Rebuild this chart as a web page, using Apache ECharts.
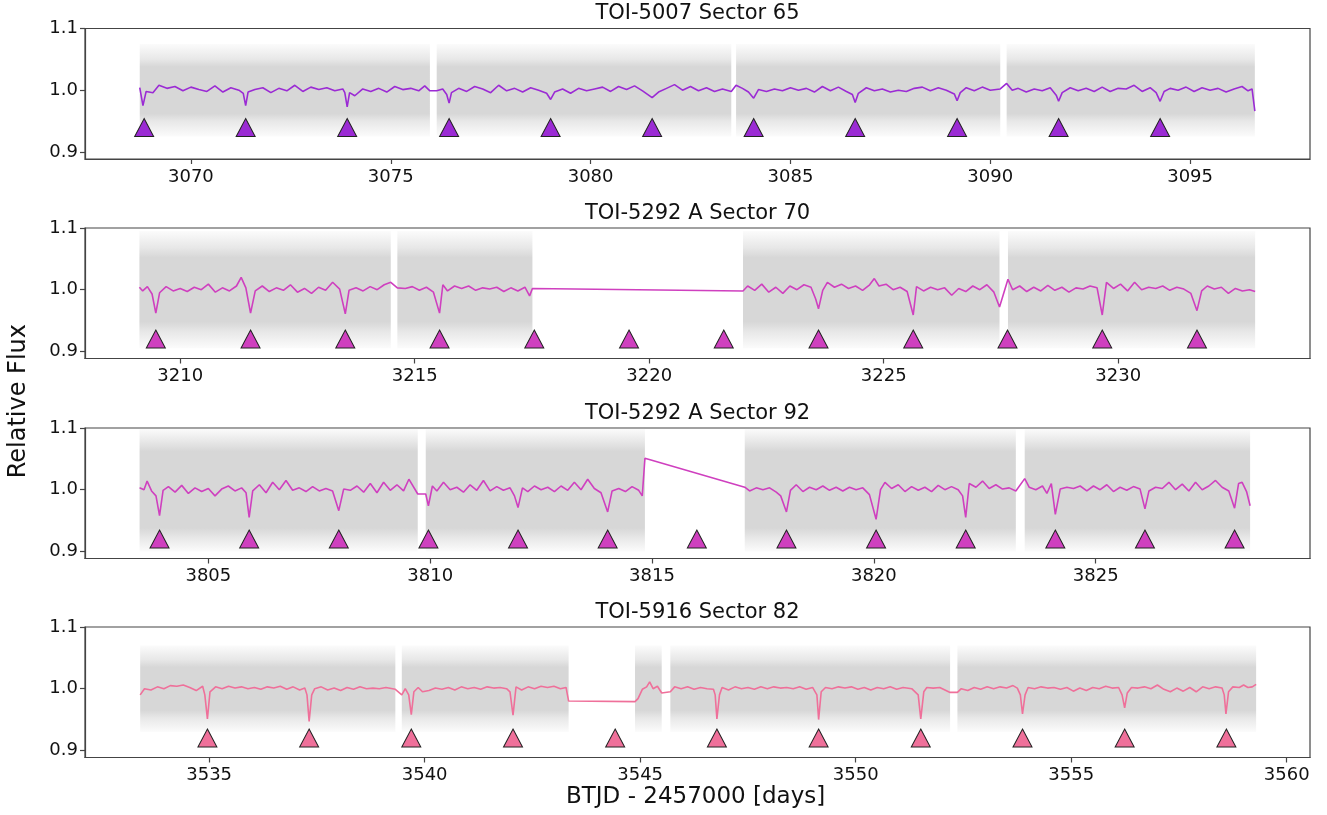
<!DOCTYPE html>
<html>
<head>
<meta charset="utf-8">
<script src="https://cdn.jsdelivr.net/npm/echarts@6/dist/echarts.min.js"></script>
<style>
  html, body { margin: 0; padding: 0; background: #fff; }
  #chart { width: 1327px; height: 815px; }
</style>
</head>
<body>
<div id="chart"></div>
<script>
// ---- panel titles
const titles = ["TOI-5007 Sector 65", "TOI-5292 A Sector 70", "TOI-5292 A Sector 92", "TOI-5916 Sector 82"];

// ---- x tick labels per panel
const s65Ticks = [3070, 3075, 3080, 3085, 3090, 3095];
const s70Ticks = [3210, 3215, 3220, 3225, 3230];
const s92Ticks = [3805, 3810, 3815, 3820, 3825];
const s82Ticks = [3535, 3540, 3545, 3550, 3555, 3560];
const yTicks = [0.9, 1.0, 1.1];

// ---- stretches of time covered by the grey photometry cloud [start, end]
const s65Segs = [[3068.72, 3075.98], [3076.15, 3083.52], [3083.64, 3090.25], [3090.41, 3096.62]];
const s70Segs = [[3209.13, 3214.49], [3214.63, 3217.51], [3222.0, 3227.47], [3227.65, 3232.92]];
const s92Segs = [[3803.45, 3809.72], [3809.90, 3814.84], [3817.09, 3823.2], [3823.4, 3828.48]];
const s82Segs = [[3533.40, 3539.32], [3539.47, 3543.34], [3544.88, 3545.50], [3545.70, 3552.19], [3552.36, 3559.29]];

// ---- spread of the grey cloud: outer lo, mid lo, core lo, core hi, mid hi, outer hi
const s65Spread = [0.925, 0.95, 0.962, 1.038, 1.05, 1.075];
const s70Spread = [0.905, 0.932, 0.948, 1.052, 1.068, 1.095];
const s92Spread = [0.9, 0.922, 0.938, 1.062, 1.078, 1.099];
const s82Spread = [0.93, 0.953, 0.965, 1.035, 1.047, 1.07];

// ---- binned light curves [time, flux]
const s65Flux = [
  [3068.72,1.004],[3068.80,0.975],[3068.88,0.998],[3069.05,0.996],[3069.2,1.008],[3069.4,1.003],[3069.6,1.006],[3069.8,0.999],[3070.0,1.005],[3070.2,1.001],[3070.4,0.998],[3070.6,1.007],[3070.8,0.997],[3071.0,1.004],[3071.2,1.0],[3071.31,0.995],[3071.37,0.975],[3071.43,0.997],[3071.6,1.001],[3071.8,1.004],[3072.0,0.996],[3072.2,1.003],[3072.4,0.999],[3072.6,1.008],[3072.8,0.998],[3073.0,1.005],[3073.2,1.001],[3073.4,1.004],[3073.6,0.999],[3073.8,1.002],[3073.85,0.996],[3073.91,0.973],[3073.97,0.996],[3074.1,0.991],[3074.3,1.002],[3074.5,0.998],[3074.7,1.003],[3074.9,0.997],[3075.1,1.006],[3075.3,1.001],[3075.5,1.003],[3075.7,0.999],[3075.85,1.007],[3075.98,0.999],
  [3076.15,0.999],[3076.3,1.002],[3076.40,0.993],[3076.46,0.979],[3076.52,0.996],[3076.7,1.003],[3076.9,0.998],[3077.1,1.006],[3077.3,1.002],[3077.5,0.996],[3077.7,1.008],[3077.9,0.999],[3078.1,1.003],[3078.3,0.997],[3078.5,1.004],[3078.7,1.0],[3078.9,0.995],[3079.0,0.985],[3079.1,0.997],[3079.3,1.002],[3079.5,0.995],[3079.7,1.003],[3079.9,0.999],[3080.1,1.002],[3080.3,1.005],[3080.5,0.998],[3080.7,1.006],[3080.9,1.001],[3081.1,1.007],[3081.3,0.999],[3081.54,0.988],[3081.7,0.997],[3081.9,1.003],[3082.1,1.009],[3082.3,1.0],[3082.5,1.006],[3082.7,0.999],[3082.9,1.004],[3083.1,0.998],[3083.3,1.002],[3083.52,0.998],
  [3083.64,1.008],[3083.8,1.003],[3083.95,0.997],[3084.08,0.987],[3084.2,1.001],[3084.4,0.998],[3084.6,1.002],[3084.8,0.999],[3085.0,1.004],[3085.2,1.0],[3085.4,1.003],[3085.6,0.997],[3085.8,1.006],[3086.0,0.999],[3086.2,1.005],[3086.4,0.998],[3086.55,0.993],[3086.62,0.980],[3086.7,0.995],[3086.9,1.004],[3087.1,0.999],[3087.3,1.002],[3087.5,0.997],[3087.7,1.0],[3087.9,0.998],[3088.1,1.003],[3088.3,1.005],[3088.5,0.999],[3088.7,1.004],[3088.9,1.0],[3089.1,0.994],[3089.17,0.983],[3089.25,0.996],[3089.4,1.004],[3089.6,0.999],[3089.8,1.005],[3090.0,1.0],[3090.25,1.002],
  [3090.41,1.011],[3090.55,1.0],[3090.7,1.003],[3090.9,0.997],[3091.1,1.002],[3091.3,0.999],[3091.5,1.004],[3091.65,0.992],[3091.71,0.982],[3091.8,0.996],[3092.0,1.004],[3092.2,0.999],[3092.4,1.003],[3092.6,0.998],[3092.8,1.005],[3093.0,0.998],[3093.2,1.003],[3093.4,1.002],[3093.6,1.008],[3093.8,0.998],[3094.0,1.004],[3094.15,0.996],[3094.25,0.982],[3094.35,0.998],[3094.5,1.003],[3094.7,1.0],[3094.9,1.005],[3095.1,0.998],[3095.3,1.004],[3095.5,1.0],[3095.7,1.003],[3095.9,0.997],[3096.1,1.002],[3096.3,1.006],[3096.45,0.999],[3096.55,1.002],[3096.62,0.966]
];
const s70Flux = [
  [3209.13,1.004],[3209.2,0.998],[3209.3,1.005],[3209.4,0.993],[3209.48,0.962],[3209.56,0.995],[3209.7,1.005],[3209.85,0.998],[3210.0,1.002],[3210.15,0.997],[3210.3,1.004],[3210.45,1.0],[3210.6,1.009],[3210.75,0.996],[3210.9,1.003],[3211.05,0.998],[3211.2,1.006],[3211.3,1.020],[3211.4,1.003],[3211.5,0.962],[3211.6,0.998],[3211.75,1.006],[3211.9,0.997],[3212.05,1.003],[3212.2,0.999],[3212.35,1.008],[3212.5,0.996],[3212.65,1.002],[3212.8,0.994],[3212.95,1.004],[3213.1,0.999],[3213.25,1.012],[3213.4,1.001],[3213.52,0.961],[3213.6,0.999],[3213.75,1.003],[3213.9,0.998],[3214.05,1.005],[3214.2,1.0],[3214.35,1.008],[3214.49,1.012],
  [3214.63,1.003],[3214.8,1.002],[3214.95,1.005],[3215.1,0.999],[3215.25,1.004],[3215.4,0.996],[3215.53,0.962],[3215.6,1.008],[3215.7,0.998],[3215.85,1.006],[3216.0,1.002],[3216.15,1.006],[3216.3,0.999],[3216.45,1.003],[3216.6,1.001],[3216.75,1.004],[3216.9,0.997],[3217.05,1.003],[3217.2,0.998],[3217.35,1.004],[3217.45,0.99],[3217.51,1.002],
  [3222.0,0.998],[3222.1,1.006],[3222.25,0.999],[3222.4,1.009],[3222.55,0.996],[3222.7,1.004],[3222.85,0.994],[3223.0,1.006],[3223.15,1.0],[3223.3,1.008],[3223.45,1.004],[3223.55,0.985],[3223.61,0.969],[3223.7,0.999],[3223.8,1.012],[3223.95,1.004],[3224.1,1.009],[3224.25,1.002],[3224.4,1.006],[3224.55,0.999],[3224.7,1.008],[3224.8,1.018],[3224.9,1.006],[3225.05,1.009],[3225.2,1.0],[3225.35,1.004],[3225.5,0.997],[3225.63,0.959],[3225.7,1.005],[3225.85,0.998],[3226.0,1.004],[3226.15,1.0],[3226.3,1.003],[3226.45,0.991],[3226.6,1.002],[3226.75,0.997],[3226.9,1.006],[3227.05,1.0],[3227.2,1.008],[3227.35,0.996],[3227.47,0.972],
  [3227.65,1.017],[3227.75,1.0],[3227.9,1.006],[3228.05,0.997],[3228.2,1.004],[3228.35,0.998],[3228.5,1.007],[3228.65,0.999],[3228.8,1.004],[3228.95,0.996],[3229.1,1.003],[3229.25,1.001],[3229.4,1.006],[3229.55,1.003],[3229.66,0.959],[3229.75,1.012],[3229.9,1.002],[3230.05,1.009],[3230.2,0.998],[3230.35,1.012],[3230.5,1.0],[3230.65,1.004],[3230.8,1.002],[3230.95,1.006],[3231.1,0.999],[3231.25,1.004],[3231.4,1.001],[3231.55,0.994],[3231.68,0.966],[3231.78,0.998],[3231.9,1.006],[3232.05,1.001],[3232.2,1.004],[3232.35,0.994],[3232.5,1.002],[3232.65,0.998],[3232.8,1.0],[3232.92,0.997]
];
const s92Flux = [
  [3803.45,1.003],[3803.55,1.0],[3803.62,1.014],[3803.72,0.998],[3803.82,0.99],[3803.90,0.958],[3803.98,0.999],[3804.1,1.005],[3804.25,0.996],[3804.4,1.007],[3804.55,0.994],[3804.7,1.003],[3804.85,0.997],[3805.0,1.002],[3805.15,0.99],[3805.3,1.001],[3805.45,1.006],[3805.6,0.998],[3805.75,1.003],[3805.85,0.995],[3805.92,0.955],[3806.0,0.998],[3806.15,1.008],[3806.3,0.995],[3806.45,1.012],[3806.6,1.0],[3806.75,1.015],[3806.9,0.999],[3807.05,1.003],[3807.2,0.997],[3807.35,1.005],[3807.5,0.998],[3807.65,1.002],[3807.8,0.998],[3807.94,0.966],[3808.05,1.001],[3808.2,0.999],[3808.35,1.006],[3808.5,0.996],[3808.65,1.01],[3808.8,0.995],[3808.95,1.012],[3809.1,0.999],[3809.25,1.008],[3809.4,0.998],[3809.52,1.017],[3809.72,0.993],
  [3809.90,0.993],[3809.96,0.974],[3810.05,1.006],[3810.15,0.998],[3810.3,1.012],[3810.45,1.0],[3810.6,1.004],[3810.75,0.996],[3810.9,1.008],[3811.05,0.999],[3811.2,1.015],[3811.35,0.998],[3811.5,1.005],[3811.65,0.999],[3811.8,1.003],[3811.9,0.99],[3811.98,0.971],[3812.08,1.003],[3812.2,0.997],[3812.35,1.006],[3812.5,1.0],[3812.65,1.004],[3812.8,0.997],[3812.95,1.006],[3813.1,0.999],[3813.25,1.012],[3813.4,1.0],[3813.55,1.017],[3813.7,1.002],[3813.85,0.995],[3814.0,0.964],[3814.1,0.998],[3814.25,1.002],[3814.4,0.997],[3814.55,1.005],[3814.7,0.999],[3814.78,0.99],[3814.84,1.051],
  [3817.09,1.004],[3817.2,0.998],[3817.35,1.003],[3817.5,1.0],[3817.65,1.003],[3817.8,0.996],[3817.9,0.99],[3818.03,0.964],[3818.12,0.999],[3818.25,1.008],[3818.4,0.997],[3818.55,1.004],[3818.7,1.0],[3818.85,1.006],[3819.0,0.999],[3819.15,1.004],[3819.3,0.998],[3819.45,1.004],[3819.6,1.0],[3819.75,1.003],[3819.9,0.992],[3820.05,0.952],[3820.15,1.0],[3820.25,1.012],[3820.4,1.002],[3820.55,1.008],[3820.7,0.997],[3820.85,1.005],[3821.0,0.999],[3821.15,1.004],[3821.3,0.997],[3821.45,1.007],[3821.6,1.0],[3821.75,1.005],[3821.9,1.0],[3822.0,0.99],[3822.07,0.955],[3822.15,1.01],[3822.3,1.004],[3822.45,1.014],[3822.6,1.002],[3822.75,1.008],[3822.9,1.001],[3823.05,1.003],[3823.2,0.998],
  [3823.4,1.018],[3823.5,1.004],[3823.65,1.0],[3823.8,1.006],[3823.9,0.994],[3824.0,1.01],[3824.09,0.96],[3824.2,1.001],[3824.35,1.004],[3824.5,1.002],[3824.65,1.006],[3824.8,0.998],[3824.95,1.006],[3825.1,1.0],[3825.25,1.008],[3825.4,0.997],[3825.55,1.004],[3825.7,0.999],[3825.85,1.005],[3826.0,1.001],[3826.11,0.969],[3826.2,0.998],[3826.35,1.004],[3826.5,1.002],[3826.65,1.012],[3826.8,1.0],[3826.95,1.009],[3827.1,0.998],[3827.25,1.012],[3827.4,1.0],[3827.55,1.006],[3827.7,1.015],[3827.85,1.004],[3828.0,0.998],[3828.13,0.97],[3828.22,1.01],[3828.3,1.012],[3828.4,0.997],[3828.48,0.974]
];
const s82Flux = [
  [3533.40,0.99],[3533.5,1.0],[3533.65,0.998],[3533.8,1.003],[3533.95,1.0],[3534.1,1.005],[3534.25,1.004],[3534.4,1.006],[3534.55,1.002],[3534.7,0.997],[3534.85,1.004],[3534.9,0.99],[3534.96,0.951],[3535.02,0.995],[3535.15,1.003],[3535.3,1.0],[3535.45,1.004],[3535.6,1.001],[3535.75,1.003],[3535.9,1.0],[3536.05,1.002],[3536.2,0.999],[3536.35,1.003],[3536.5,1.001],[3536.65,1.004],[3536.8,0.999],[3536.95,1.003],[3537.1,0.998],[3537.22,1.001],[3537.27,0.99],[3537.32,0.947],[3537.38,0.99],[3537.45,1.0],[3537.6,1.003],[3537.75,0.998],[3537.9,1.001],[3538.05,0.997],[3538.2,1.002],[3538.35,0.999],[3538.5,1.003],[3538.65,1.0],[3538.8,1.001],[3538.95,1.0],[3539.1,1.002],[3539.32,0.999],
  [3539.47,0.99],[3539.55,1.0],[3539.63,0.99],[3539.69,0.958],[3539.75,0.995],[3539.85,1.002],[3539.95,0.995],[3540.1,0.997],[3540.25,1.001],[3540.4,0.999],[3540.55,1.002],[3540.7,0.998],[3540.85,1.003],[3541.0,1.0],[3541.15,1.002],[3541.3,0.999],[3541.45,1.003],[3541.6,1.001],[3541.75,1.002],[3541.9,1.0],[3541.98,0.995],[3542.05,0.957],[3542.12,1.003],[3542.25,0.998],[3542.4,1.003],[3542.55,1.0],[3542.7,1.004],[3542.85,1.002],[3543.0,1.004],[3543.15,1.0],[3543.28,1.002],[3543.34,0.98],
  [3544.88,0.979],[3544.95,0.984],[3545.05,0.999],[3545.15,1.003],[3545.22,1.011],[3545.3,1.0],[3545.4,1.004],[3545.5,0.993],
  [3545.70,0.995],[3545.8,1.003],[3545.95,1.0],[3546.1,1.003],[3546.25,0.999],[3546.4,1.002],[3546.55,1.0],[3546.7,0.999],[3546.74,0.99],[3546.78,0.951],[3546.84,0.99],[3546.9,1.002],[3547.05,0.998],[3547.2,1.003],[3547.35,1.0],[3547.5,1.002],[3547.65,0.999],[3547.8,1.003],[3547.95,1.0],[3548.1,1.003],[3548.25,1.001],[3548.4,1.002],[3548.55,1.0],[3548.7,1.003],[3548.85,0.999],[3549.0,1.002],[3549.1,0.99],[3549.14,0.95],[3549.2,0.995],[3549.3,1.002],[3549.45,1.0],[3549.6,1.003],[3549.75,1.001],[3549.9,1.003],[3550.05,0.999],[3550.2,1.002],[3550.35,0.998],[3550.5,1.002],[3550.65,1.0],[3550.8,1.003],[3550.95,0.999],[3551.1,1.002],[3551.3,1.0],[3551.45,0.99],[3551.51,0.951],[3551.58,0.995],[3551.65,1.002],[3551.8,1.001],[3551.95,1.002],[3552.19,0.994],
  [3552.36,0.994],[3552.45,1.0],[3552.6,0.997],[3552.75,1.002],[3552.9,0.999],[3553.05,1.003],[3553.2,1.0],[3553.35,1.003],[3553.5,1.001],[3553.65,1.005],[3553.75,1.001],[3553.82,0.99],[3553.87,0.959],[3553.93,0.99],[3554.0,1.002],[3554.15,1.0],[3554.3,1.003],[3554.45,1.001],[3554.6,1.002],[3554.75,0.999],[3554.9,1.002],[3555.05,0.996],[3555.2,1.001],[3555.35,0.997],[3555.5,1.002],[3555.65,1.0],[3555.8,1.004],[3555.95,1.001],[3556.1,1.002],[3556.18,0.99],[3556.24,0.969],[3556.3,0.993],[3556.4,1.002],[3556.55,1.001],[3556.7,1.003],[3556.85,1.0],[3557.0,1.006],[3557.15,0.999],[3557.3,0.995],[3557.45,1.001],[3557.6,0.996],[3557.75,1.002],[3557.9,0.995],[3558.05,1.003],[3558.2,1.0],[3558.35,1.003],[3558.5,1.001],[3558.55,0.99],[3558.59,0.959],[3558.65,0.995],[3558.75,1.003],[3558.9,1.002],[3559.0,1.006],[3559.1,1.002],[3559.2,1.003],[3559.29,1.007]
];

// ---- predicted transit times (triangles)
const s65Transits = [3068.83, 3071.37, 3073.91, 3076.46, 3079.00, 3081.54, 3084.08, 3086.62, 3089.17, 3091.71, 3094.25];
const s70Transits = [3209.48, 3211.50, 3213.52, 3215.53, 3217.55, 3219.57, 3221.59, 3223.61, 3225.63, 3227.64, 3229.66, 3231.68];
const s92Transits = [3803.90, 3805.92, 3807.94, 3809.96, 3811.98, 3814.00, 3816.01, 3818.03, 3820.05, 3822.07, 3824.09, 3826.11, 3828.13];
const s82Transits = [3534.96, 3537.32, 3539.69, 3542.05, 3544.42, 3546.78, 3549.14, 3551.51, 3553.87, 3556.24, 3558.60];
const markLevel = [0.9395, 0.92, 0.92, 0.92];

const panels = [
  { title: titles[0], ticks: s65Ticks, xlim: [3067.35, 3098.0], segs: s65Segs, spread: s65Spread, flux: s65Flux, transits: s65Transits, color: "#9b2bd4" },
  { title: titles[1], ticks: s70Ticks, xlim: [3207.97, 3234.09], segs: s70Segs, spread: s70Spread, flux: s70Flux, transits: s70Transits, color: "#cf40bf" },
  { title: titles[2], ticks: s92Ticks, xlim: [3802.22, 3829.83], segs: s92Segs, spread: s92Spread, flux: s92Flux, transits: s92Transits, color: "#cf40bf" },
  { title: titles[3], ticks: s82Ticks, xlim: [3532.12, 3560.54], segs: s82Segs, spread: s82Spread, flux: s82Flux, transits: s82Transits, color: "#ef709a" },
];

const gridTops = [28.5, 228, 428, 627];
const FONT = "DejaVu Sans";

// one item per segment: [start, end, outerLo, midLo, coreLo, coreHi, midHi, outerHi]
function bandData(segs, lv) {
  return segs.map(s => [s[0], s[1]].concat(lv));
}

function renderBand(params, api) {
  const top = api.coord([api.value(0), api.value(7)]);
  const bot = api.coord([api.value(1), api.value(2)]);
  const h = bot[1] - top[1];
  const off = v => Math.min(1, Math.max(0, (api.coord([0, v])[1] - top[1]) / h));
  const g = a => "rgba(208,208,208," + a + ")";
  const fill = new echarts.graphic.LinearGradient(0, 0, 0, 1, [
    { offset: 0, color: g(0.08) },
    { offset: off(api.value(6)), color: g(0.5) },
    { offset: off(api.value(5)), color: g(0.85) },
    { offset: off(api.value(4)), color: g(0.85) },
    { offset: off(api.value(3)), color: g(0.5) },
    { offset: 1, color: g(0.08) }
  ]);
  return { type: "rect", shape: { x: top[0], y: top[1], width: bot[0] - top[0], height: h }, style: { fill } };
}

const grid = [], xAxis = [], yAxis = [], series = [], title = [];

panels.forEach((p, i) => {
  grid.push({ left: 85, right: 17, top: gridTops[i], height: 130.5, show: true, borderColor: "#444", borderWidth: 1.2, backgroundColor: "transparent" });
  title.push({
    text: p.title, left: 697.5, top: gridTops[i] - 25, textAlign: "center", padding: 0,
    textStyle: { fontFamily: FONT, fontSize: 21, fontWeight: "normal", color: "#111" }
  });
  xAxis.push({
    type: "value", gridIndex: i, min: p.xlim[0], max: p.xlim[1],
    axisLine: { show: true, onZero: false, lineStyle: { color: "#444", width: 1.2 } },
    axisTick: { show: true, length: 5, customValues: p.ticks, lineStyle: { color: "#444", width: 1.2 } },
    axisLabel: { customValues: p.ticks, margin: 9, fontFamily: FONT, fontSize: 18, color: "#111", formatter: v => String(v) },
    splitLine: { show: false }
  });
  yAxis.push({
    type: "value", gridIndex: i, min: 0.8885, max: 1.1,
    axisLine: { show: true, lineStyle: { color: "#444", width: 1.2 } },
    axisTick: { show: true, length: 5, customValues: yTicks, lineStyle: { color: "#444", width: 1.2 } },
    axisLabel: { customValues: yTicks, margin: 7, fontFamily: FONT, fontSize: 18, color: "#111", formatter: v => v.toFixed(1) },
    splitLine: { show: false }
  });
  series.push({
    type: "custom", xAxisIndex: i, yAxisIndex: i, renderItem: renderBand,
    encode: { x: [0, 1], y: [2, 7] }, data: bandData(p.segs, p.spread), z: 1, silent: true
  });
  series.push({
    type: "line", xAxisIndex: i, yAxisIndex: i, data: p.flux, showSymbol: false,
    lineStyle: { color: p.color, width: 1.6 }, z: 2, silent: true
  });
  series.push({
    type: "scatter", xAxisIndex: i, yAxisIndex: i,
    data: p.transits.map(t => [t, markLevel[i]]),
    symbol: "triangle", symbolSize: [19, 18],
    itemStyle: { color: p.color, borderColor: "#222", borderWidth: 1, opacity: 1 }, z: 3, silent: true
  });
});

const chart = echarts.init(document.getElementById("chart"), null, { renderer: "canvas" });
chart.setOption({
  animation: false,
  backgroundColor: "#fff",
  title, grid, xAxis, yAxis, series,
  graphic: [
    { type: "text", left: 7, top: 324, rotation: Math.PI / 2,
      style: { text: "Relative Flux", fontFamily: FONT, fontSize: 24, fill: "#111" } },
    { type: "text", left: 566, top: 786,
      style: { text: "BTJD - 2457000 [days]", fontFamily: FONT, fontSize: 23, fill: "#111" } }
  ]
});
</script>
</body>
</html>
